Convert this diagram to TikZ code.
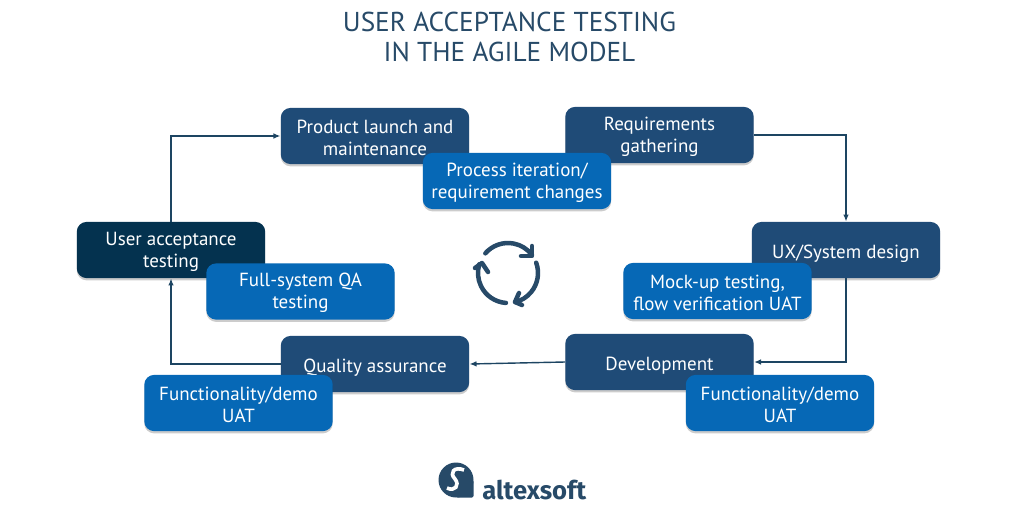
\documentclass[tikz,border=0pt]{standalone}
\usepackage{fontspec}
\setmainfont{PT Sans}
\newfontfamily\logofont{Fira Sans}
\usetikzlibrary{arrows.meta,shadows}
\definecolor{stepblue}{HTML}{1F4B77}
\definecolor{darkblue}{HTML}{04324F}
\definecolor{uatblue}{HTML}{0668B6}
\definecolor{linecol}{HTML}{1D4562}
\definecolor{titlecol}{HTML}{274A68}
\newcommand{\toprow}{\rule{0pt}{11.8pt}}
\newcommand{\onerow}{\rule{0pt}{14.5pt}}
\tikzset{
    box/.style={rounded corners=7pt,minimum width=134pt,minimum height=40pt,inner sep=0pt,
        align=center,text=white,font=\fontsize{13.5}{15.8}\selectfont,
        drop shadow={shadow xshift=0pt,shadow yshift=-1.6pt,opacity=0.2,fill=black}},
    stepbox/.style={box,fill=stepblue},
    uatbox/.style={box,fill=uatblue},
    link/.style={draw=linecol,line width=1pt,-{Latex[length=5pt,width=4pt]}},
    cycle arrow/.style={draw=titlecol,line width=3.2pt,line cap=round,line join=round},
}
\begin{document}
\begin{tikzpicture}[x=0.025cm,y=-0.025cm]
    \useasboundingbox (0,0) rectangle (1021,514);
    % title
    \node (title) [text=titlecol,align=center,font=\fontsize{19.4}{21.3}\selectfont] at (509.5,37)
    {USER ACCEPTANCE TESTING\\IN THE AGILE MODEL};
    % phases
    \node (launch) [stepbox] at (375,136) {\toprow Product launch and\\maintenance};
    \node (req) [stepbox] at (659.5,135) {\toprow Requirements\\gathering};
    \node (design) [stepbox] at (846,250) {\onerow UX/System design};
    \node (dev) [stepbox] at (659.5,362) {\onerow Development};
    \node (qa) [stepbox] at (375,364) {\onerow Quality assurance};
    \node (uat) [stepbox,fill=darkblue] at (171,250) {\toprow User acceptance\\testing};
    \draw[link] (uat.north) |- (launch.west);
    \draw[link] (req.east) -| (design.north);
    \draw[link] (design.south) |- (dev.east);
    \draw[link] (dev.west) -- (qa.east);
    \draw[link] (qa.west) -| (uat.south);
    % testing activities
    \node (iter) [uatbox] at (517,181) {\toprow Process iteration/\\requirement changes};
    \node (mock) [uatbox] at (717.5,291) {\toprow Mock-up testing,\\flow verification UAT};
    \node (demor) [uatbox] at (780,403) {\toprow Functionality/demo\\UAT};
    \node (demol) [uatbox] at (238.5,403) {\toprow Functionality/demo\\UAT};
    \node (full) [uatbox] at (300.5,291.5) {\toprow Full-system QA\\testing};
    % cycle icon
    \coordinate (icon) at (508,273);
    \draw[cycle arrow] ([shift={(-139:30)}]icon) arc (-139:-37:30);
    \draw[cycle arrow] (521,256) -- (532,256) -- (532,246);
    \draw[cycle arrow] ([shift={(-20:30)}]icon) arc (-20:76:30);
    \draw[cycle arrow] (519,293) -- (515,302) -- (522,305);
    \draw[cycle arrow] ([shift={(94:30)}]icon) arc (94:197:30);
    \draw[cycle arrow] (475,268) -- (482,263) -- (488,272);
    % logo
    \fill[titlecol] (456,480) circle (17.5);
    \fill[titlecol,rounded corners=1pt] (456,497.5) -- (473.5,497.5) -- (473.5,480) -- cycle;
    \draw[white,line width=2.6pt] (464,470) .. controls (454,466) and (449,473) .. (455,479)
        .. controls (460,485) and (455,492) .. (447,488);
    \node (brand) [anchor=west,text=titlecol,inner sep=0pt,font=\logofont\bfseries\fontsize{18.2}{20}\selectfont] at (482,490) {altexsoft};
\end{tikzpicture}
\end{document}
